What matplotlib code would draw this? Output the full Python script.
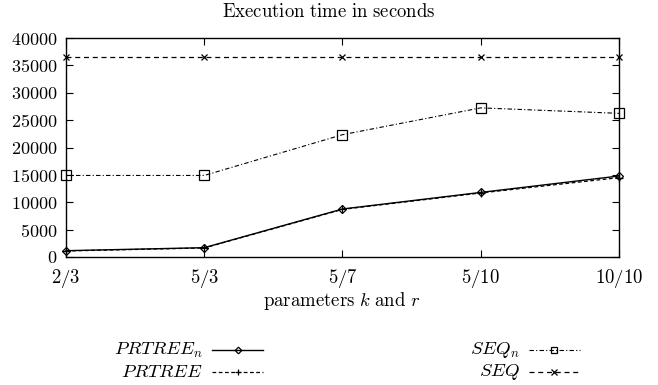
import matplotlib
matplotlib.use("Agg")
import matplotlib.pyplot as plt
from matplotlib.lines import Line2D
import numpy as np

plt.rcParams["font.family"] = "cmr10"
plt.rcParams["mathtext.fontset"] = "cm"
plt.rcParams["axes.formatter.use_mathtext"] = True

# data
categories = ["2/3", "5/3", "5/7", "5/10", "10/10"]
prtree_n = [1150, 1700, 8770, 11800, 14800]
prtree = [1100, 1650, 8700, 11700, 14500]
seq_n = [14900, 14900, 22350, 27250, 26250]
seq = [36500, 36500, 36500, 36500, 36500]
yticks = [0, 5000, 10000, 15000, 20000, 25000, 30000, 35000, 40000]

fig = plt.figure(figsize=(6.58, 3.85), dpi=100)
ax = fig.add_axes([0.1003, 0.3325, 0.8404, 0.5685])

x = np.arange(len(categories))

styles = {
    "prtree_n": dict(color="black", lw=1.0, ls="-", marker="D", ms=4.5,
                     mfc="none", mec="black", mew=0.9),
    "prtree": dict(color="black", lw=0.9, ls=(0, (3, 2)), marker="+", ms=6,
                   mew=0.9),
    "seq_n": dict(color="black", lw=0.8, ls=(0, (4, 2, 1, 2)), marker="s",
                  ms=6.5, mfc="none", mec="black", mew=0.9),
    "seq": dict(color="black", lw=0.9, ls=(0, (4, 3)), marker="x", ms=5,
                mew=0.9),
}

ax.plot(x, seq, **styles["seq"], clip_on=False, zorder=3)
ax.plot(x, seq_n, **styles["seq_n"], clip_on=False, zorder=3)
ax.plot(x, prtree, **styles["prtree"], clip_on=False, zorder=3)
ax.plot(x, prtree_n, **styles["prtree_n"], clip_on=False, zorder=4)

ax.set_xlim(0, len(categories) - 1)
ax.set_ylim(0, 40000)
ax.set_xticks(x)
ax.set_xticklabels(["$%s$" % c for c in categories], fontsize=13.5)
ax.set_yticks(yticks)
ax.set_yticklabels(["$%d$" % v for v in yticks], fontsize=13)
ax.tick_params(direction="in", top=True, right=True, length=5, width=0.8)
ax.tick_params(axis="x", pad=7)
ax.tick_params(axis="y", pad=6)
for s in ax.spines.values():
    s.set_linewidth(1.0)

fig.text(0.5, 0.968, r"$\mathrm{Execution\ time\ in\ seconds}$",
         ha="center", va="center", fontsize=13.5)
fig.text(0.519, 0.218, r"$\mathrm{parameters}\ k\ \mathrm{and}\ r$",
         ha="center", va="center", fontsize=13.5)

# legend, gnuplot style: right-aligned label followed by sample
legend_rows = [
    (r"$PRTREE_n$", "prtree_n", 0.3085, 0.091),
    (r"$PRTREE$", "prtree", 0.3085, 0.034),
    (r"$SEQ_n$", "seq_n", 0.790, 0.091),
    (r"$SEQ$", "seq", 0.790, 0.034),
]
for label, key, xr, yr in legend_rows:
    fig.text(xr, yr, label, ha="right", va="center", fontsize=13.5)
    st = dict(styles[key])
    marker = st.pop("marker")
    ms = st.pop("ms")
    mfc = st.pop("mfc", None)
    mec = st.pop("mec", "black")
    mew = st.pop("mew", 0.9)
    x0, x1 = xr + 0.014, xr + 0.091
    fig.add_artist(Line2D([x0, x1], [yr, yr], transform=fig.transFigure, **st))
    fig.add_artist(Line2D([(x0 + x1) / 2], [yr], transform=fig.transFigure,
                          marker=marker, ms=ms * 0.75, mfc=mfc if mfc else "black",
                          mec=mec, mew=mew, ls="none"))

fig.savefig("out.png", dpi=100)
